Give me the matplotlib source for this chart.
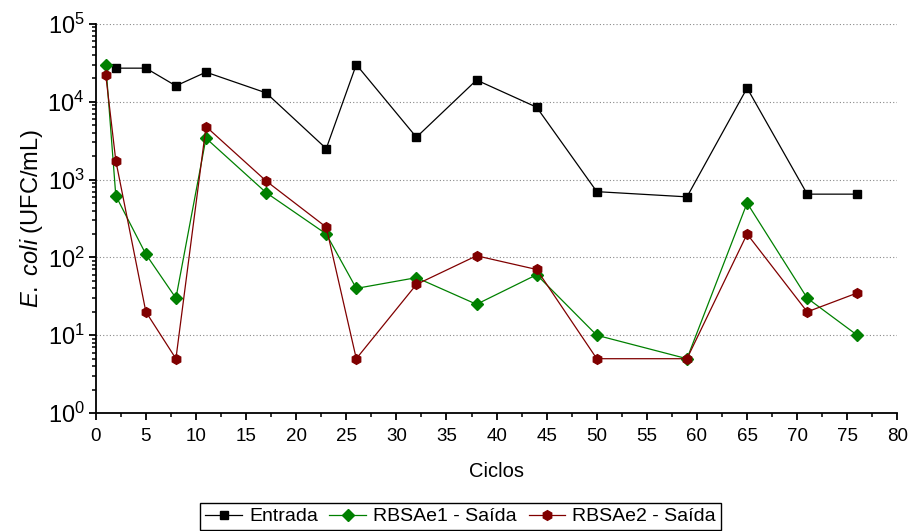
import numpy as np
import matplotlib
matplotlib.use("Agg")
import matplotlib.pyplot as plt
from matplotlib.ticker import LogLocator, MultipleLocator, NullFormatter

plt.rcParams['font.family'] = ['Liberation Sans', 'DejaVu Sans']
plt.rcParams['mathtext.fontset'] = 'custom'
plt.rcParams['mathtext.rm'] = 'Liberation Sans'
plt.rcParams['mathtext.it'] = 'Liberation Sans:italic'

# ciclos e contagens de E. coli (UFC/mL)
ciclos_ent = [2, 5, 8, 11, 17, 23, 26, 32, 38, 44, 50, 59, 65, 71, 76]
entrada = [27000, 27000, 16000, 24000, 13000, 2500, 30000, 3500, 19000, 8500,
           700, 600, 15000, 650, 650]

ciclos = [1, 2, 5, 8, 11, 17, 23, 26, 32, 38, 44, 50, 59, 65, 71, 76]
rbsae1 = [30000, 620, 110, 30, 3400, 680, 200, 40, 55, 25, 60, 10, 5, 500, 30, 10]
rbsae2 = [22000, 1750, 20, 5, 4800, 960, 245, 5, 45, 105, 70, 5, 5, 200, 20, 35]

fig = plt.figure(figsize=(9.12, 5.31), dpi=100)
ax = fig.add_axes([0.105, 0.222, 0.879, 0.733])

ax.plot(ciclos_ent, entrada, '-', color='black', lw=0.9, marker='s', ms=5.5,
        mec='black', mfc='black', label='Entrada', zorder=3)
ax.plot(ciclos, rbsae1, '-', color='#008000', lw=0.9, marker='D', ms=6,
        mec='#008000', mfc='#008000', label='RBSAe1 - Saída', zorder=4)
ax.plot(ciclos, rbsae2, '-', color='#800000', lw=0.9, marker='h', ms=7,
        mec='#800000', mfc='#800000', label='RBSAe2 - Saída', zorder=5)

ax.set_yscale('log')
ax.set_ylim(1, 1e5)
ax.set_xlim(0, 80)
ax.xaxis.set_major_locator(MultipleLocator(5))
ax.xaxis.set_minor_locator(MultipleLocator(2.5))
ax.yaxis.set_major_locator(LogLocator(base=10, numticks=10))
ax.yaxis.set_minor_locator(LogLocator(base=10, subs=np.arange(2, 10), numticks=20))
ax.yaxis.set_minor_formatter(NullFormatter())

for s in ['top', 'right']:
    ax.spines[s].set_visible(False)
for s in ['left', 'bottom']:
    ax.spines[s].set_linewidth(1.3)

ax.tick_params(axis='both', which='major', direction='out', length=5, width=1.3)
ax.tick_params(axis='both', which='minor', direction='out', length=3, width=1.1)
ax.tick_params(axis='x', labelsize=13.5, pad=6)
ax.tick_params(axis='y', labelsize=17, pad=3)

ax.yaxis.grid(True, which='major', ls=(0, (1, 2)), color='#888888', lw=0.8)

ax.set_xlabel('Ciclos', fontsize=14.5, labelpad=12)
ax.set_ylabel(r'$\mathit{E.\ coli}$ (UFC/mL)', fontsize=17, labelpad=2)

fig.legend(loc='upper center', bbox_to_anchor=(0.505, 0.053), ncol=3,
           fontsize=14, frameon=True, fancybox=False, edgecolor='black',
           handlelength=1.9, handletextpad=0.35, columnspacing=0.6,
           borderpad=0.25, borderaxespad=0, framealpha=1)

fig.savefig('out.png', dpi=100)
